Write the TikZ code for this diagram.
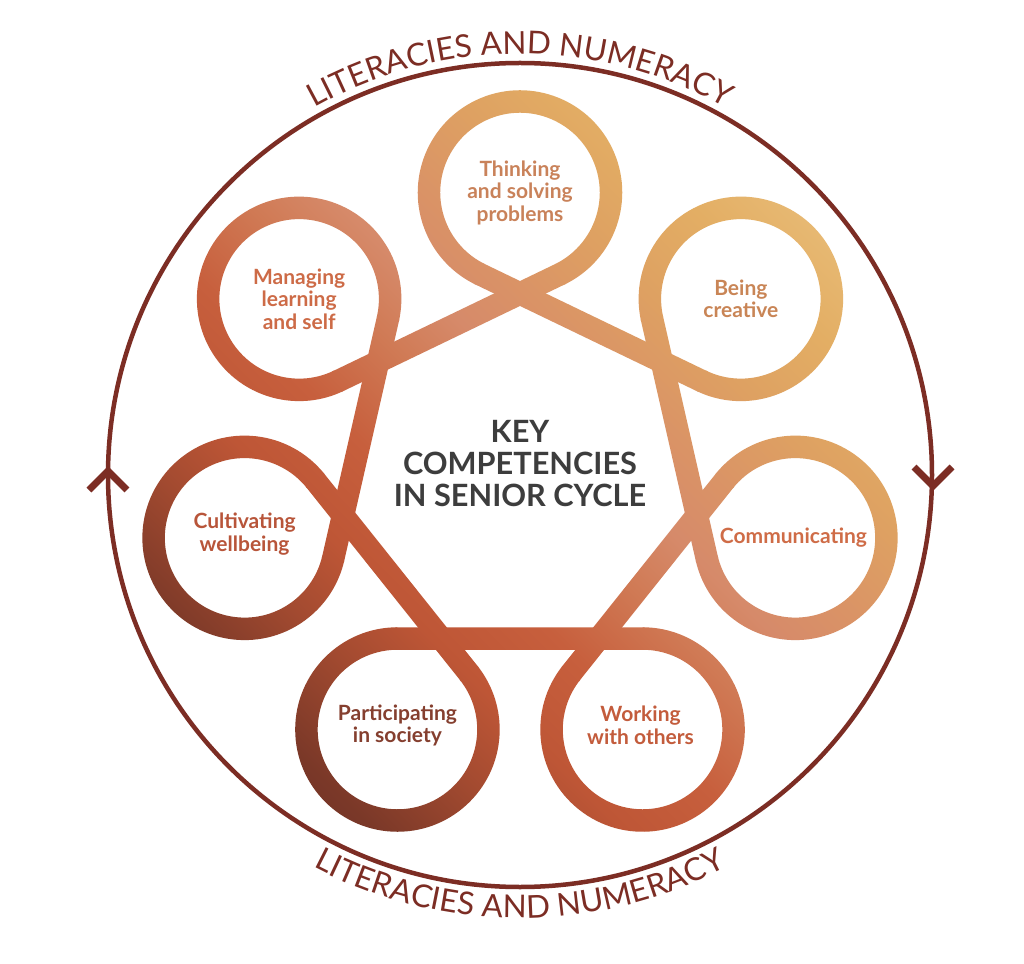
\documentclass[tikz,border=0pt]{standalone}
\usepackage{fontspec}
\setmainfont{Lato}
\usetikzlibrary{calc,decorations.text}
\definecolor{litred}{HTML}{7C2D24}
\definecolor{keygray}{HTML}{3D3D3D}
\definecolor{g0}{HTML}{6A2E22}
\definecolor{g1}{HTML}{6E3024}
\definecolor{g2}{HTML}{7A3828}
\definecolor{g3}{HTML}{A24A30}
\definecolor{g4}{HTML}{BE5636}
\definecolor{g5}{HTML}{C75F3D}
\definecolor{g6}{HTML}{D07A55}
\definecolor{g7}{HTML}{D68A6A}
\definecolor{g8}{HTML}{DA9366}
\definecolor{g9}{HTML}{DEA162}
\definecolor{g10}{HTML}{E3AE64}
\definecolor{g11}{HTML}{E9BE7A}
\definecolor{g12}{HTML}{ECC684}
\definecolor{thinkc}{HTML}{C9825A}
\definecolor{creativec}{HTML}{C98556}
\definecolor{commc}{HTML}{CF6C47}
\definecolor{workc}{HTML}{C35C3C}
\definecolor{partc}{HTML}{853F2F}
\definecolor{cultc}{HTML}{B8553A}
\definecolor{managec}{HTML}{CD6B47}
\pgfdeclarehorizontalshading{ribbonshade}{100bp}{color(0bp)=(g0); color(14.6bp)=(g0); color(23.1bp)=(g1); color(27.4bp)=(g2); color(33.7bp)=(g3); color(38.7bp)=(g4); color(44.3bp)=(g5); color(50bp)=(g6); color(54.2bp)=(g7); color(58.5bp)=(g8); color(64.1bp)=(g9); color(69.8bp)=(g10); color(76.9bp)=(g11); color(85.4bp)=(g12); color(100bp)=(g12)}
\tikzset{
  ribbonfill/.style={shading=ribbonshade, shading angle=45},
  looplabel/.style={align=center, font=\fontsize{21}{22.5}\selectfont\bfseries},
  chevron/.style={draw=litred, line width=7pt, miter limit=10},
}
\begin{document}
\begin{tikzpicture}[x=1pt,y=1pt]
\useasboundingbox (-520pt,-488pt) rectangle (504pt,475pt);
\fill[white] (-520pt,-488pt) rectangle (504pt,475pt);
% outer cycle
\draw[litred, line width=4.5pt] (0pt,0pt) circle[radius=412pt];
\draw[chevron] (-431pt,-15pt) -- (-412pt,4pt) -- (-393pt,-15pt);
\draw[chevron] (394pt,8pt) -- (413pt,-11pt) -- (432pt,8pt);
\path[decorate, decoration={text along path, text align=center, text color=litred,
  text={|\fontsize{31.5}{36}\selectfont|LITERACIES AND NUMERACY}}]
  (160:421pt) arc[start angle=160, end angle=20, radius=421pt];
\path[decorate, decoration={text along path, text align=center, text color=litred,
  text={|\fontsize{31.5}{36}\selectfont|LITERACIES AND NUMERACY}}]
  (200:443pt) arc[start angle=200, end angle=340, radius=443pt];
% ribbon
\foreach \k in {0,...,6}{
  \pgfmathsetmacro\th{90+\k*360/7}
  \pgfmathsetmacro\tn{90+(\k+1)*360/7}
  \pgfmathsetmacro\a{\th-154.2857}
  \pgfmathsetmacro\b{\th+154.2857}
  \pgfmathsetmacro\c{\tn+154.2857}
  \coordinate (C) at (\th:282.5pt);
  \coordinate (N) at (\tn:282.5pt);
  \coordinate (po) at ($(C)+(\a:102.25pt)$);
  \coordinate (pi) at ($(C)+(\a:79.75pt)$);
  \coordinate (qo) at ($(N)+(\c:102.25pt)$);
  \coordinate (qi) at ($(N)+(\c:79.75pt)$);
  \begin{scope}
    \clip (po) arc[start angle=\a, end angle=\b, radius=102.25pt]
      -- ($(C)+(\b:79.75pt)$) arc[start angle=\b, end angle=\a, radius=79.75pt] -- cycle;
    \shade[ribbonfill] (-395pt,-395pt) rectangle (395pt,395pt);
  \end{scope}
  \begin{scope}
    \clip ($(po)!-2pt!(qo)$) -- ($(qo)!-2pt!(po)$) -- ($(qi)!-2pt!(pi)$) -- ($(pi)!-2pt!(qi)$) -- cycle;
    \shade[ribbonfill] (-395pt,-395pt) rectangle (395pt,395pt);
  \end{scope}
}
% labels
\node[looplabel, text=thinkc] (think) at (90:282.5pt) {Thinking\\and solving\\problems};
\node[looplabel, text=managec] (manage) at (141.4286:282.5pt) {Managing\\learning\\and self};
\node[looplabel, text=cultc] (cult) at ($(192.8571:282.5pt)+(0pt,4pt)$) {Cultivating\\wellbeing};
\node[looplabel, text=partc] (part) at ($(244.2857:282.5pt)+(0pt,4pt)$) {Participating\\in society};
\node[looplabel, text=workc] (work) at ($(295.7143:282.5pt)+(-2pt,4pt)$) {Working\\with others};
\node[looplabel, text=commc] (comm) at ($(347.1429:282.5pt)+(-2pt,0pt)$) {Communicating};
\node[looplabel, text=creativec] (creative) at (38.5714:282.5pt) {Being\\creative};
\node[align=center, text=keygray, font=\fontsize{30.7}{32}\selectfont\bfseries] (title) at (0pt,11pt)
  {KEY\\COMPETENCIES\\IN SENIOR CYCLE};
\end{tikzpicture}
\end{document}
